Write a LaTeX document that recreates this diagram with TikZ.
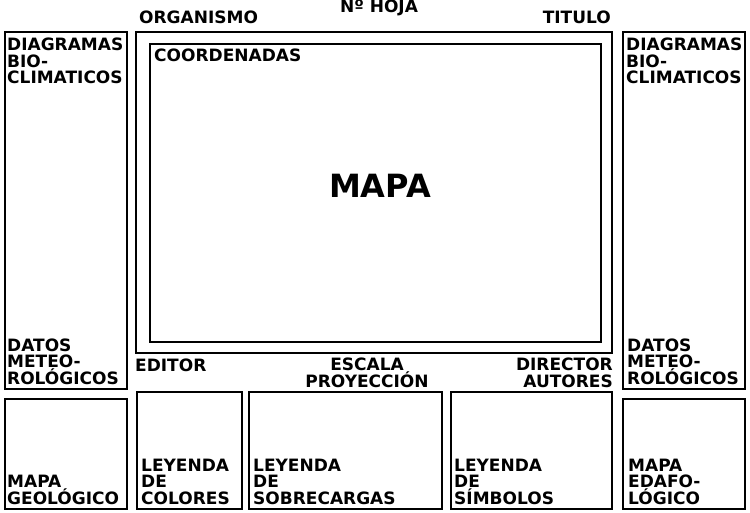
\documentclass[tikz,border=0pt]{standalone}
\usepackage{fontspec}
\setmainfont{DejaVu Sans}

\begin{document}
\begin{tikzpicture}[x=1pt, y=-1pt,
    caja/.style={draw, line width=2.2pt},
    rotulo/.style={inner sep=0pt, align=left, font=\fontsize{17}{16.5}\selectfont\bfseries},
    titulo/.style={inner sep=0pt, font=\fontsize{32}{32}\selectfont\bfseries}]

  % margenes del dibujo
  \useasboundingbox (0,0) rectangle (750,513);

  % cajas: esquina superior izquierda / esquina inferior derecha
  \foreach \xa/\ya/\xb/\yb in {5/32/127/389, 5/399/127/509,
                               136/32/612/353, 150/44/601/342,
                               623/32/745/389, 623/399/745/509,
                               137/392/242/509, 249/392/442/509, 451/392/612/509} {
    \draw[caja] (\xa,\ya) rectangle (\xb,\yb);
  }

  % columna izquierda (base = ultima linea)
  \node[rotulo, anchor=base west] (diagizq) at (7,84) {DIAGRAMAS\\BIO-\\CLIMATICOS};
  \node[rotulo, anchor=base west] (datosizq) at (7,384) {DATOS\\METEO-\\ROLÓGICOS};
  \node[rotulo, anchor=base west] (geologico) at (7,504) {MAPA\\GEOLÓGICO};

  % cabecera
  \node[rotulo, anchor=base west] (organismo) at (139,24) {ORGANISMO};
  \node[rotulo, anchor=base] (hoja) at (379,13) {Nº HOJA};
  \node[rotulo, anchor=base east] (tit) at (611,24) {TITULO};

  % mapa
  \node[rotulo, anchor=base west] (coord) at (154,62) {COORDENADAS};
  \node[titulo, anchor=base] (mapa) at (380,198) {MAPA};

  % pie del mapa
  \node[rotulo, anchor=base west] (editor) at (135,371) {EDITOR};
  \node[rotulo, align=center, anchor=base] (escala) at (367,387) {ESCALA\\PROYECCIÓN};
  \node[rotulo, align=right, anchor=base east] (director) at (613,387) {DIRECTOR\\AUTORES};

  % leyendas
  \node[rotulo, anchor=base west] (colores) at (141,504) {LEYENDA\\DE\\COLORES};
  \node[rotulo, anchor=base west] (sobrecargas) at (253,504) {LEYENDA\\DE\\SOBRECARGAS};
  \node[rotulo, anchor=base west] (simbolos) at (454,504) {LEYENDA\\DE\\SÍMBOLOS};

  % columna derecha
  \node[rotulo, anchor=base west] (diagder) at (626,84) {DIAGRAMAS\\BIO-\\CLIMATICOS};
  \node[rotulo, anchor=base west] (datosder) at (627,384) {DATOS\\METEO-\\ROLÓGICOS};
  \node[rotulo, anchor=base west] (edafologico) at (628,504) {MAPA\\EDAFO-\\LÓGICO};

\end{tikzpicture}
\end{document}
